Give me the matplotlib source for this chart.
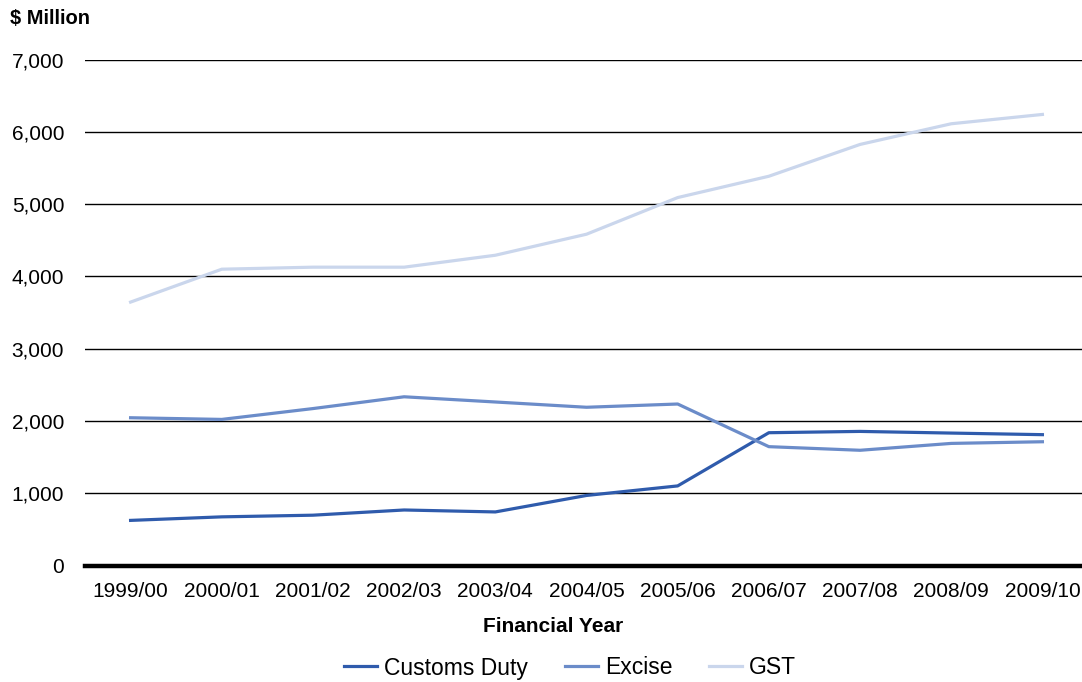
import matplotlib.pyplot as plt
import matplotlib.ticker as mticker

plt.rcParams['font.family'] = ['Liberation Sans', 'DejaVu Sans']

# Revenue by financial year, $ million
years = ['1999/00', '2000/01', '2001/02', '2002/03', '2003/04', '2004/05',
         '2005/06', '2006/07', '2007/08', '2008/09', '2009/10']
customs_duty = [624, 673, 696, 768, 741, 969, 1101, 1837, 1855, 1832, 1810]
excise = [2044, 2021, 2171, 2334, 2262, 2189, 2234, 1644, 1594, 1689, 1712]
gst = [3644, 4099, 4127, 4127, 4292, 4583, 5090, 5385, 5825, 6111, 6240]

colors = ['#2F5BAC', '#6B8CC9', '#CAD6EC']

fig = plt.figure(figsize=(10.82, 6.82), dpi=100)
ax = fig.add_axes([85 / 1082, 1 - 565.5 / 682, 1003 / 1082, 506 / 682])

x = range(len(years))
ax.plot(x, customs_duty, color=colors[0], lw=2.3, label='Customs Duty')
ax.plot(x, excise, color=colors[1], lw=2.3, label='Excise')
ax.plot(x, gst, color=colors[2], lw=2.3, label='GST')

ax.set_xlim(-0.5, len(years) - 0.5)
ax.set_ylim(0, 7000)
ax.set_yticks(range(0, 7001, 1000))
ax.yaxis.set_major_formatter(mticker.FuncFormatter(lambda v, p: f'{int(v):,}'))
ax.set_xticks(list(x))
ax.set_xticklabels(years)

ax.grid(axis='y', color='black', lw=1.0)
ax.set_axisbelow(True)
for side in ['top', 'right', 'left']:
    ax.spines[side].set_visible(False)
ax.spines['bottom'].set_linewidth(3.2)
ax.spines['bottom'].set_color('black')
ax.tick_params(axis='both', length=0, labelsize=15, colors='black')
ax.tick_params(axis='y', pad=15)
ax.tick_params(axis='x', pad=12)

fig.text(553 / 1082, 1 - 626 / 682, 'Financial Year', fontsize=15,
         fontweight='bold', ha='center', va='center')
fig.text(10 / 1082, 1 - 18 / 682, '$ Million', fontsize=14.5, fontweight='bold',
         ha='left', va='center')

fig.legend(loc='center', bbox_to_anchor=(570 / 1082, 1 - 668 / 682), ncol=3,
           frameon=False, fontsize=16.5, handlelength=1.45, columnspacing=1.6,
           handletextpad=0.3)

fig.savefig('out.png', dpi=100)
